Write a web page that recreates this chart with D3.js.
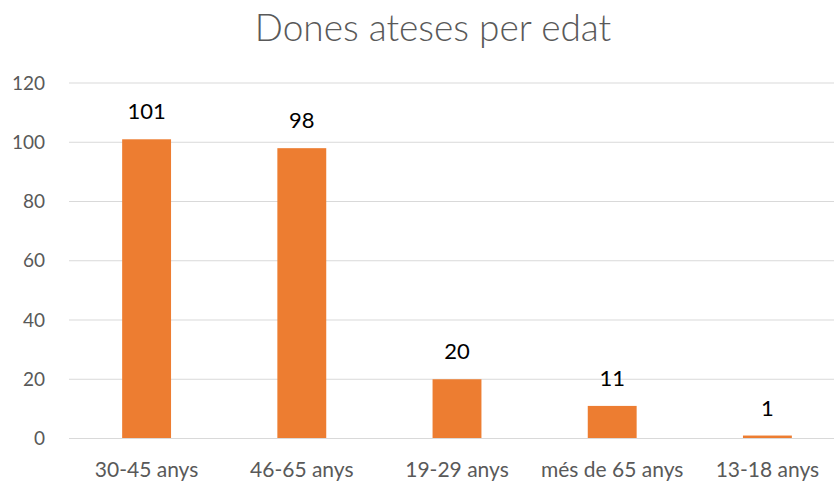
<!DOCTYPE html>
<html>
<head>
<meta charset="utf-8">
<script src="https://cdn.jsdelivr.net/npm/d3@7"></script>
<style>
  body { margin: 0; background: #fff; }
  svg { display: block; font-family: Lato, "Open Sans", sans-serif; }
</style>
</head>
<body>
<svg id="chart" width="834" height="482"></svg>
<script>
// data
var categories = ['30-45 anys', '46-65 anys', '19-29 anys', 'més de 65 anys', '13-18 anys'];
var values = [101, 98, 20, 11, 1];
var yTicks = [0, 20, 40, 60, 80, 100, 120];

var svg = d3.select('#chart');

// scales
var x = d3.scaleBand().domain(categories).range([69, 845]).paddingInner(0.685).paddingOuter(0.3425);
var y = d3.scaleLinear().domain([0, 120]).range([438.5, 83]);

// title
svg.append('text')
  .attr('x', 433).attr('y', 41)
  .attr('text-anchor', 'middle')
  .style('font-size', '37px')
  .style('font-weight', 300)
  .style('fill', '#595959')
  .text('Dones ateses per edat');

// gridlines
svg.selectAll('.grid')
  .data(yTicks)
  .join('line')
  .classed('grid', true)
  .attr('x1', 69).attr('x2', 845)
  .attr('y1', d => y(d)).attr('y2', d => y(d))
  .style('stroke', '#d9d9d9')
  .style('stroke-width', 1);

// y axis labels
var yAxis = svg.append('g')
  .attr('transform', 'translate(45,0)')
  .call(d3.axisLeft(y).tickValues(yTicks).tickSize(0).tickPadding(0));
yAxis.select('.domain').remove();
yAxis.selectAll('text')
  .style('font-family', 'Lato, "Open Sans", sans-serif')
  .style('font-size', '19px')
  .style('fill', '#595959');

// bars
svg.selectAll('.bar')
  .data(values)
  .join('rect')
  .classed('bar', true)
  .attr('x', (d, i) => x(categories[i]))
  .attr('width', x.bandwidth())
  .attr('y', d => y(d))
  .attr('height', d => y(0) - y(d))
  .style('fill', '#ed7d31');

// x axis line on top of bars
svg.append('line')
  .attr('x1', 69).attr('x2', 845)
  .attr('y1', y(0)).attr('y2', y(0))
  .style('stroke', '#d9d9d9');

// x axis labels
var xAxis = svg.append('g')
  .attr('transform', `translate(0,${y(0)})`)
  .call(d3.axisBottom(x).tickSize(0).tickPadding(0));
xAxis.select('.domain').remove();
xAxis.selectAll('text')
  .attr('dy', 0)
  .attr('y', 38.5)
  .style('font-family', 'Lato, "Open Sans", sans-serif')
  .style('font-size', '21px')
  .style('fill', '#595959');

// value labels
svg.selectAll('.val')
  .data(values)
  .join('text')
  .classed('val', true)
  .attr('x', (d, i) => x(categories[i]) + x.bandwidth() / 2)
  .attr('y', d => y(d) - 20)
  .attr('text-anchor', 'middle')
  .style('font-size', '22px')
  .style('fill', '#000')
  .text(d => d);
</script>
</body>
</html>
